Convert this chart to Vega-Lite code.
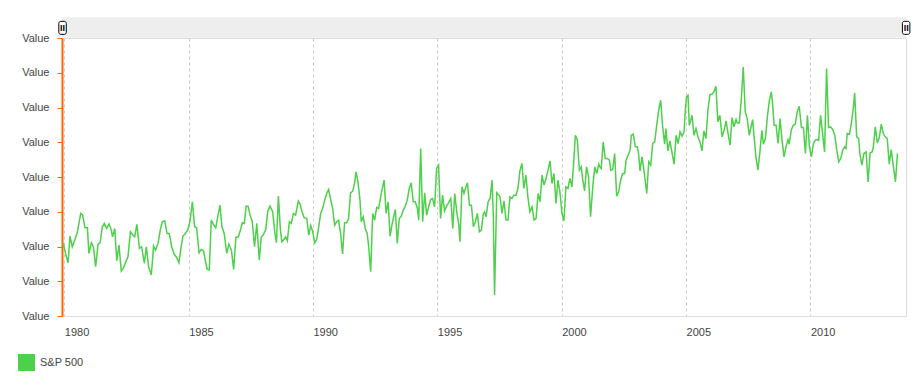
{
  "$schema": "https://vega.github.io/schema/vega-lite/v6.json",
  "width": 844,
  "height": 278,
  "autosize": {"type": "none"},
  "padding": {"left": 62, "top": 38, "right": 12, "bottom": 73},
  "background": "#ffffff",
  "config": {
    "font": "Liberation Sans",
    "view": {"stroke": "#dddddd", "strokeWidth": 1}
  },
  "datasets": {
    "sp": [
      {"d":1979.96,"v":218},{"d":1980.05,"v":188},{"d":1980.15,"v":160},{"d":1980.23,"v":240},{"d":1980.32,"v":208},{"d":1980.42,"v":228},{"d":1980.52,"v":250},{"d":1980.60,"v":283},{"d":1980.66,"v":308},{"d":1980.74,"v":303},{"d":1980.83,"v":265},{"d":1980.93,"v":265},{"d":1980.99,"v":188},{"d":1981.09,"v":220},{"d":1981.17,"v":208},{"d":1981.26,"v":148},{"d":1981.36,"v":216},{"d":1981.44,"v":220},{"d":1981.53,"v":268},{"d":1981.61,"v":278},{"d":1981.70,"v":263},{"d":1981.80,"v":276},{"d":1981.89,"v":258},{"d":1981.94,"v":238},{"d":1982.03,"v":263},{"d":1982.11,"v":166},{"d":1982.20,"v":213},{"d":1982.29,"v":135},{"d":1982.37,"v":143},{"d":1982.45,"v":158},{"d":1982.56,"v":178},{"d":1982.66,"v":253},{"d":1982.74,"v":245},{"d":1982.83,"v":238},{"d":1982.92,"v":275},{"d":1983.02,"v":203},{"d":1983.11,"v":208},{"d":1983.22,"v":158},{"d":1983.30,"v":208},{"d":1983.39,"v":148},{"d":1983.50,"v":123},{"d":1983.59,"v":210},{"d":1983.67,"v":198},{"d":1983.77,"v":218},{"d":1983.85,"v":255},{"d":1983.94,"v":283},{"d":1984.04,"v":286},{"d":1984.13,"v":248},{"d":1984.22,"v":248},{"d":1984.32,"v":208},{"d":1984.42,"v":185},{"d":1984.52,"v":176},{"d":1984.61,"v":160},{"d":1984.69,"v":203},{"d":1984.77,"v":240},{"d":1984.87,"v":248},{"d":1984.96,"v":258},{"d":1985.05,"v":283},{"d":1985.15,"v":343},{"d":1985.24,"v":268},{"d":1985.32,"v":265},{"d":1985.42,"v":190},{"d":1985.51,"v":200},{"d":1985.60,"v":196},{"d":1985.68,"v":163},{"d":1985.75,"v":140},{"d":1985.83,"v":138},{"d":1985.91,"v":288},{"d":1985.99,"v":276},{"d":1986.09,"v":265},{"d":1986.17,"v":298},{"d":1986.26,"v":333},{"d":1986.34,"v":268},{"d":1986.43,"v":248},{"d":1986.53,"v":188},{"d":1986.62,"v":216},{"d":1986.72,"v":198},{"d":1986.81,"v":140},{"d":1986.90,"v":236},{"d":1987.00,"v":238},{"d":1987.08,"v":258},{"d":1987.16,"v":280},{"d":1987.24,"v":278},{"d":1987.31,"v":330},{"d":1987.39,"v":330},{"d":1987.47,"v":303},{"d":1987.56,"v":283},{"d":1987.65,"v":208},{"d":1987.74,"v":278},{"d":1987.84,"v":168},{"d":1987.92,"v":238},{"d":1988.00,"v":243},{"d":1988.10,"v":260},{"d":1988.18,"v":313},{"d":1988.27,"v":330},{"d":1988.38,"v":313},{"d":1988.47,"v":248},{"d":1988.53,"v":220},{"d":1988.61,"v":360},{"d":1988.69,"v":258},{"d":1988.75,"v":223},{"d":1988.83,"v":230},{"d":1988.90,"v":238},{"d":1988.97,"v":226},{"d":1989.05,"v":283},{"d":1989.13,"v":278},{"d":1989.21,"v":308},{"d":1989.30,"v":303},{"d":1989.41,"v":345},
      {"d":1989.48,"v":336},{"d":1989.56,"v":313},{"d":1989.64,"v":296},{"d":1989.75,"v":293},{"d":1989.83,"v":243},{"d":1989.91,"v":272},{"d":1989.99,"v":253},{"d":1990.07,"v":220},{"d":1990.15,"v":230},{"d":1990.23,"v":268},{"d":1990.31,"v":308},{"d":1990.39,"v":323},{"d":1990.47,"v":348},{"d":1990.55,"v":368},{"d":1990.63,"v":380},{"d":1990.71,"v":350},{"d":1990.79,"v":323},{"d":1990.87,"v":273},{"d":1990.95,"v":283},{"d":1991.03,"v":288},{"d":1991.11,"v":248},{"d":1991.19,"v":186},{"d":1991.27,"v":280},{"d":1991.35,"v":280},{"d":1991.43,"v":293},{"d":1991.51,"v":370},{"d":1991.60,"v":375},{"d":1991.68,"v":403},{"d":1991.73,"v":433},{"d":1991.81,"v":403},{"d":1991.89,"v":348},{"d":1991.94,"v":283},{"d":1992.02,"v":298},{"d":1992.10,"v":263},{"d":1992.18,"v":248},{"d":1992.24,"v":208},{"d":1992.32,"v":133},{"d":1992.40,"v":308},{"d":1992.48,"v":288},{"d":1992.56,"v":326},{"d":1992.64,"v":323},{"d":1992.72,"v":358},{"d":1992.80,"v":388},{"d":1992.86,"v":408},{"d":1992.94,"v":308},{"d":1993.02,"v":343},{"d":1993.10,"v":240},{"d":1993.18,"v":276},{"d":1993.26,"v":303},{"d":1993.31,"v":320},{"d":1993.39,"v":218},{"d":1993.47,"v":293},{"d":1993.55,"v":300},{"d":1993.63,"v":318},{"d":1993.71,"v":330},{"d":1993.79,"v":348},{"d":1993.87,"v":383},{"d":1993.95,"v":400},{"d":1994.03,"v":343},{"d":1994.11,"v":343},{"d":1994.20,"v":323},{"d":1994.25,"v":288},{"d":1994.33,"v":503},{"d":1994.41,"v":283},{"d":1994.49,"v":370},{"d":1994.57,"v":303},{"d":1994.65,"v":328},{"d":1994.73,"v":350},{"d":1994.81,"v":353},{"d":1994.89,"v":328},{"d":1994.97,"v":443},{"d":1995.05,"v":453},{"d":1995.13,"v":293},{"d":1995.21,"v":363},{"d":1995.29,"v":316},{"d":1995.37,"v":330},{"d":1995.45,"v":340},{"d":1995.54,"v":353},{"d":1995.62,"v":263},{"d":1995.70,"v":368},{"d":1995.78,"v":313},{"d":1995.86,"v":276},{"d":1995.91,"v":223},{"d":1995.99,"v":388},{"d":1996.07,"v":368},{"d":1996.15,"v":388},{"d":1996.21,"v":400},{"d":1996.29,"v":333},{"d":1996.37,"v":333},{"d":1996.45,"v":268},{"d":1996.53,"v":283},{"d":1996.61,"v":308},{"d":1996.69,"v":253},{"d":1996.77,"v":258},{"d":1996.85,"v":308},{"d":1996.90,"v":313},{"d":1996.96,"v":298},{"d":1997.04,"v":343},{"d":1997.12,"v":353},{"d":1997.20,"v":408},{"d":1997.25,"v":303},{"d":1997.30,"v":63},{"d":1997.39,"v":370},{"d":1997.47,"v":363},{"d":1997.52,"v":358},{"d":1997.60,"v":308},{"d":1997.68,"v":346},{"d":1997.76,"v":288},{"d":1997.84,"v":288},{"d":1997.92,"v":358},{"d":1998.00,"v":353},{"d":1998.08,"v":363},{"d":1998.16,"v":363},{"d":1998.24,"v":383},{"d":1998.32,"v":436},{"d":1998.40,"v":458},{"d":1998.48,"v":383},{"d":1998.56,"v":423},{"d":1998.64,"v":358},{"d":1998.72,"v":313},{"d":1998.81,"v":328},{"d":1998.89,"v":288},{"d":1998.97,"v":293},{"d":1999.05,"v":368},{"d":1999.13,"v":343},{"d":1999.21,"v":423},{"d":1999.29,"v":393},{"d":1999.37,"v":413},{"d":1999.45,"v":438},{"d":1999.53,"v":466},{"d":1999.61,"v":398},{"d":1999.69,"v":428},{"d":1999.77,"v":338},{"d":1999.85,"v":408},{"d":1999.93,"v":373},{"d":2000.01,"v":308},{"d":2000.09,"v":286},{"d":2000.17,"v":388},{"d":2000.25,"v":383},{"d":2000.33,"v":413},{"d":2000.41,"v":388},{"d":2000.47,"v":448},{"d":2000.55,"v":543},{"d":2000.63,"v":528},{"d":2000.71,"v":438},{"d":2000.79,"v":448},{"d":2000.84,"v":413},{"d":2000.92,"v":376},{"d":2001.00,"v":448},{"d":2001.08,"v":418},{"d":2001.16,"v":298},{"d":2001.25,"v":388},{"d":2001.33,"v":448},{"d":2001.41,"v":428},{"d":2001.49,"v":456},
      {"d":2001.54,"v":448},{"d":2001.59,"v":443},{"d":2001.67,"v":523},{"d":2001.75,"v":473},{"d":2001.83,"v":473},{"d":2001.92,"v":468},{"d":2001.97,"v":438},{"d":2002.05,"v":440},{"d":2002.13,"v":488},{"d":2002.21,"v":360},{"d":2002.29,"v":373},{"d":2002.37,"v":408},{"d":2002.45,"v":428},{"d":2002.53,"v":428},{"d":2002.59,"v":468},{"d":2002.67,"v":483},{"d":2002.75,"v":498},{"d":2002.80,"v":543},{"d":2002.88,"v":546},{"d":2002.96,"v":508},{"d":2003.04,"v":508},{"d":2003.09,"v":488},{"d":2003.15,"v":436},{"d":2003.23,"v":478},{"d":2003.31,"v":436},{"d":2003.42,"v":368},{"d":2003.50,"v":463},{"d":2003.58,"v":453},{"d":2003.66,"v":518},{"d":2003.74,"v":523},{"d":2003.82,"v":573},{"d":2003.90,"v":618},{"d":2003.98,"v":648},{"d":2004.06,"v":568},{"d":2004.14,"v":516},{"d":2004.19,"v":563},{"d":2004.27,"v":496},{"d":2004.35,"v":526},{"d":2004.43,"v":493},{"d":2004.52,"v":456},{"d":2004.60,"v":543},{"d":2004.68,"v":518},{"d":2004.76,"v":553},{"d":2004.84,"v":540},{"d":2004.92,"v":553},{"d":2004.97,"v":618},{"d":2005.02,"v":658},{"d":2005.08,"v":663},{"d":2005.13,"v":573},{"d":2005.19,"v":588},{"d":2005.24,"v":603},{"d":2005.32,"v":543},{"d":2005.40,"v":563},{"d":2005.48,"v":538},{"d":2005.56,"v":523},{"d":2005.64,"v":496},{"d":2005.72,"v":556},{"d":2005.80,"v":533},{"d":2005.88,"v":618},{"d":2005.96,"v":665},{"d":2006.04,"v":666},{"d":2006.12,"v":673},{"d":2006.20,"v":690},{"d":2006.28,"v":583},{"d":2006.36,"v":603},{"d":2006.45,"v":538},{"d":2006.53,"v":558},{"d":2006.61,"v":586},{"d":2006.69,"v":548},{"d":2006.77,"v":513},{"d":2006.85,"v":596},{"d":2006.93,"v":568},{"d":2007.01,"v":590},{"d":2007.06,"v":580},{"d":2007.14,"v":580},{"d":2007.22,"v":648},{"d":2007.30,"v":748},{"d":2007.38,"v":613},{"d":2007.46,"v":593},{"d":2007.54,"v":543},{"d":2007.62,"v":570},{"d":2007.68,"v":590},{"d":2007.73,"v":543},{"d":2007.81,"v":478},{"d":2007.89,"v":438},{"d":2007.97,"v":493},{"d":2008.05,"v":558},{"d":2008.11,"v":516},{"d":2008.19,"v":533},{"d":2008.27,"v":598},{"d":2008.35,"v":648},{"d":2008.43,"v":673},{"d":2008.48,"v":638},{"d":2008.54,"v":573},{"d":2008.62,"v":573},{"d":2008.70,"v":518},{"d":2008.78,"v":593},{"d":2008.86,"v":528},{"d":2008.94,"v":478},{"d":2009.02,"v":508},{"d":2009.10,"v":530},{"d":2009.15,"v":516},{"d":2009.23,"v":558},{"d":2009.31,"v":573},{"d":2009.39,"v":576},{"d":2009.47,"v":613},{"d":2009.55,"v":630},{"d":2009.64,"v":566},{"d":2009.72,"v":566},{"d":2009.80,"v":488},{"d":2009.88,"v":603},{"d":2009.96,"v":508},{"d":2010.04,"v":478},{"d":2010.12,"v":518},{"d":2010.20,"v":528},{"d":2010.28,"v":530},{"d":2010.33,"v":528},{"d":2010.41,"v":603},{"d":2010.49,"v":548},{"d":2010.57,"v":493},{"d":2010.65,"v":743},{"d":2010.73,"v":566},{"d":2010.81,"v":568},{"d":2010.90,"v":560},{"d":2010.98,"v":543},{"d":2011.06,"v":498},{"d":2011.14,"v":463},{"d":2011.22,"v":473},{"d":2011.30,"v":498},{"d":2011.38,"v":508},{"d":2011.43,"v":503},{"d":2011.48,"v":548},{"d":2011.57,"v":546},{"d":2011.65,"v":580},{"d":2011.73,"v":628},{"d":2011.78,"v":670},{"d":2011.86,"v":538},{"d":2011.94,"v":533},{"d":2011.99,"v":488},{"d":2012.07,"v":453},{"d":2012.15,"v":488},{"d":2012.24,"v":493},{"d":2012.32,"v":403},{"d":2012.40,"v":490},{"d":2012.48,"v":493},{"d":2012.53,"v":508},{"d":2012.61,"v":568},{"d":2012.69,"v":520},{"d":2012.77,"v":536},{"d":2012.85,"v":576},{"d":2012.93,"v":548},{"d":2013.01,"v":538},{"d":2013.09,"v":533},{"d":2013.17,"v":456},{"d":2013.25,"v":500},{"d":2013.33,"v":453},{"d":2013.42,"v":403},{"d":2013.50,"v":488}
    ]
  },
  "layer": [
    {
      "data": {"name": "sp"},
      "mark": {"type": "line", "strokeWidth": 1.5, "interpolate": "linear"},
      "encoding": {
        "x": {
          "field": "d",
          "type": "quantitative",
          "scale": {"domain": [1979.908, 2013.844], "nice": false, "zero": false},
          "axis": {
            "title": null,
            "values": [1980, 1985, 1990, 1995, 2000, 2005, 2010],
            "tickCount": 20,
            "format": "d",
            "grid": true,
            "gridColor": "#cccccc",
            "gridDash": [3, 3],
            "gridWidth": 1,
            "ticks": false,
            "domainColor": "#dddddd",
            "domainWidth": 1,
            "labelAlign": "left",
            "labelPadding": 10,
            "labelColor": "#444444",
            "labelFontSize": 11,
            "labelFlush": false,
            "labelOverlap": false
          }
        },
        "y": {
          "field": "v",
          "type": "quantitative",
          "scale": {"domain": [0, 835], "nice": false, "zero": true},
          "axis": {
            "title": null,
            "values": [0, 104.375, 208.75, 313.125, 417.5, 521.875, 626.25, 730.625, 835],
            "tickCount": 20,
            "labelExpr": "'Value'",
            "grid": false,
            "domainColor": "#ff6600",
            "domainWidth": 2,
            "tickColor": "#ff6600",
            "tickSize": 5,
            "tickWidth": 1,
            "labelPadding": 8,
            "labelColor": "#444444",
            "labelFontSize": 11,
            "labelFlush": false,
            "labelOverlap": false
          }
        },
        "color": {
          "datum": "S&P 500",
          "type": "nominal",
          "scale": {"range": ["#4dd04a"]},
          "legend": {
            "title": null,
            "orient": "none",
            "legendX": -44,
            "legendY": 316,
            "padding": 0,
            "symbolType": "square",
            "symbolSize": 289,
            "symbolFillColor": "#4dd04a",
            "symbolStrokeWidth": 0,
            "labelFontSize": 11,
            "labelColor": "#444444",
            "labelOffset": 5
          }
        }
      }
    },
    {
      "data": {"values": [{}]},
      "mark": {"type": "rect", "fill": "#eeeeee", "stroke": null},
      "encoding": {
        "x": {"datum": 1979.908, "type": "quantitative"},
        "x2": {"datum": 2013.844},
        "y": {"datum": 836, "type": "quantitative"},
        "y2": {"datum": 897}
      }
    },
    {
      "data": {"values": [{}]},
      "mark": {"type": "rect", "fill": "#ffffff", "stroke": "#000000", "strokeWidth": 1, "cornerRadius": 2},
      "encoding": {
        "x": {"datum": 1979.78, "type": "quantitative"},
        "x2": {"datum": 1980.08},
        "y": {"datum": 846, "type": "quantitative"},
        "y2": {"datum": 885}
      }
    },
    {
      "data": {"values": [{}]},
      "mark": {"type": "text", "text": "II", "fontSize": 9, "font": "Liberation Sans", "fontWeight": "bold", "color": "#000000", "baseline": "middle", "align": "center"},
      "encoding": {
        "x": {"datum": 1979.93, "type": "quantitative"},
        "y": {"datum": 865, "type": "quantitative"}
      }
    },
    {
      "data": {"values": [{}]},
      "mark": {"type": "rect", "fill": "#ffffff", "stroke": "#000000", "strokeWidth": 1, "cornerRadius": 2},
      "encoding": {
        "x": {"datum": 2013.70, "type": "quantitative"},
        "x2": {"datum": 2014.00},
        "y": {"datum": 846, "type": "quantitative"},
        "y2": {"datum": 885}
      }
    },
    {
      "data": {"values": [{}]},
      "mark": {"type": "text", "text": "II", "fontSize": 9, "font": "Liberation Sans", "fontWeight": "bold", "color": "#000000", "baseline": "middle", "align": "center"},
      "encoding": {
        "x": {"datum": 2013.85, "type": "quantitative"},
        "y": {"datum": 865, "type": "quantitative"}
      }
    }
  ]
}
